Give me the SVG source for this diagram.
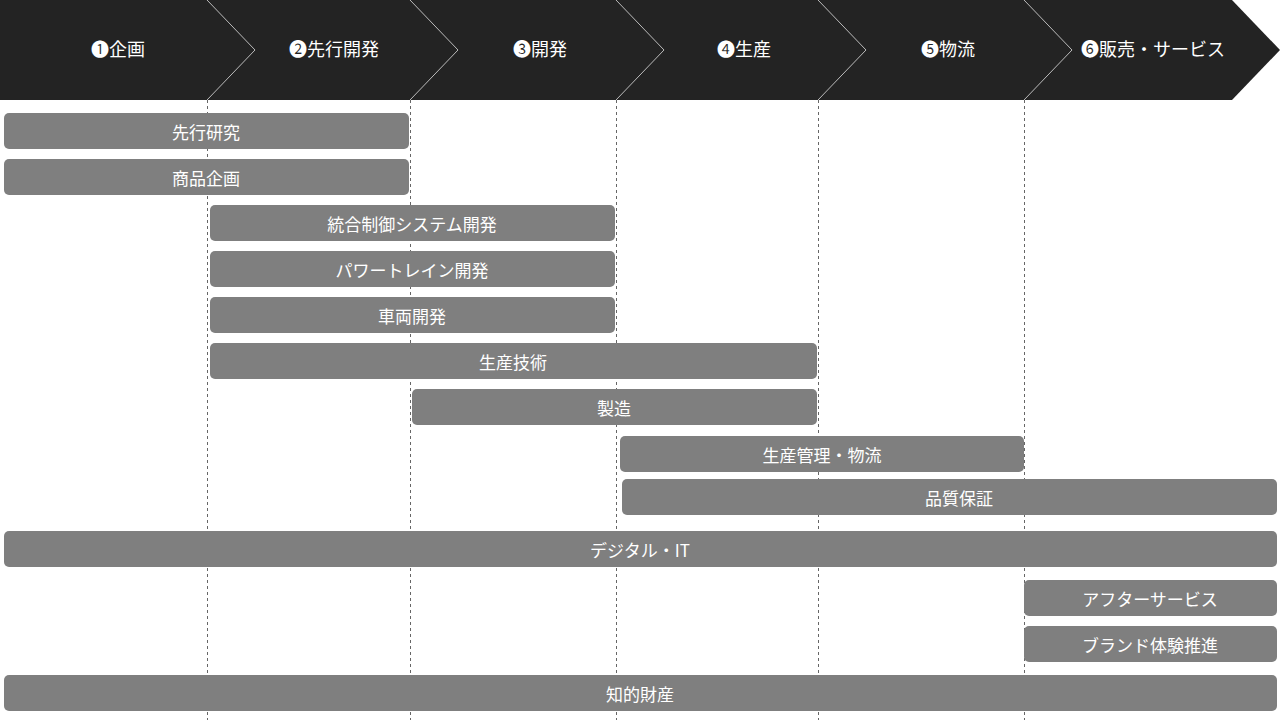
<svg xmlns="http://www.w3.org/2000/svg" width="1280" height="720" viewBox="0 0 1280 720">
<style>
.h{font-family:"Noto Sans CJK JP","DejaVu Sans",sans-serif;font-size:18px;fill:#fff;text-anchor:middle;dominant-baseline:central}
.b{fill:#7f7f7f}
.t{font-family:"Noto Sans CJK JP",sans-serif;font-size:17px;fill:#fff;text-anchor:middle;dominant-baseline:central}
.d{stroke:#666;stroke-width:1;stroke-dasharray:3,3}
.s{stroke:#bbb;stroke-width:1;fill:none}
</style>
<rect width="1280" height="720" fill="#fff"/>
<g id="header">
<polygon points="0,0 1232,0 1280,50 1232,100 0,100" fill="#232323"/>
<polyline class="s" points="207,0 255,50 207,100"/>
<polyline class="s" points="410,0 458,50 410,100"/>
<polyline class="s" points="616,0 664,50 616,100"/>
<polyline class="s" points="818,0 866,50 818,100"/>
<polyline class="s" points="1024,0 1072,50 1024,100"/>
<text class="h" x="118" y="48">❶企画</text>
<text class="h" x="334" y="48">❷先行開発</text>
<text class="h" x="540" y="48">❸開発</text>
<text class="h" x="744" y="48">❹生産</text>
<text class="h" x="948" y="48">❺物流</text>
<text class="h" x="1153" y="48">❻販売・サービス</text>
</g>
<g id="connectors">
<line class="d" x1="207.5" y1="100" x2="207.5" y2="720"/>
<line class="d" x1="410.5" y1="100" x2="410.5" y2="720"/>
<line class="d" x1="616.5" y1="100" x2="616.5" y2="720"/>
<line class="d" x1="818.5" y1="100" x2="818.5" y2="720"/>
<line class="d" x1="1024.5" y1="100" x2="1024.5" y2="720"/>
</g>
<g id="n1"><rect class="b" x="4" y="113" width="405" height="36" rx="5"/><text class="t" x="206" y="131">先行研究</text></g>
<g id="n2"><rect class="b" x="4" y="159" width="405" height="36" rx="5"/><text class="t" x="206" y="177">商品企画</text></g>
<g id="n3"><rect class="b" x="210" y="205" width="405" height="36" rx="5"/><text class="t" x="412" y="223">統合制御システム開発</text></g>
<g id="n4"><rect class="b" x="210" y="251" width="405" height="36" rx="5"/><text class="t" x="412" y="269">パワートレイン開発</text></g>
<g id="n5"><rect class="b" x="210" y="297" width="405" height="36" rx="5"/><text class="t" x="412" y="315">車両開発</text></g>
<g id="n6"><rect class="b" x="210" y="343" width="607" height="36" rx="5"/><text class="t" x="513" y="361">生産技術</text></g>
<g id="n7"><rect class="b" x="412" y="389" width="405" height="36" rx="5"/><text class="t" x="614" y="407">製造</text></g>
<g id="n8"><rect class="b" x="620" y="436" width="404" height="36" rx="5"/><text class="t" x="822" y="454">生産管理・物流</text></g>
<g id="n9"><rect class="b" x="622" y="479" width="655" height="36" rx="5"/><text class="t" x="959" y="497">品質保証</text></g>
<g id="n10"><rect class="b" x="4" y="531" width="1273" height="36" rx="5"/><text class="t" x="640" y="549">デジタル・IT</text></g>
<g id="n11"><rect class="b" x="1024" y="580" width="253" height="36" rx="5"/><text class="t" x="1150" y="598">アフターサービス</text></g>
<g id="n12"><rect class="b" x="1024" y="626" width="253" height="36" rx="5"/><text class="t" x="1150" y="644">ブランド体験推進</text></g>
<g id="n13"><rect class="b" x="4" y="675" width="1273" height="36" rx="5"/><text class="t" x="640" y="693">知的財産</text></g>
</svg>
